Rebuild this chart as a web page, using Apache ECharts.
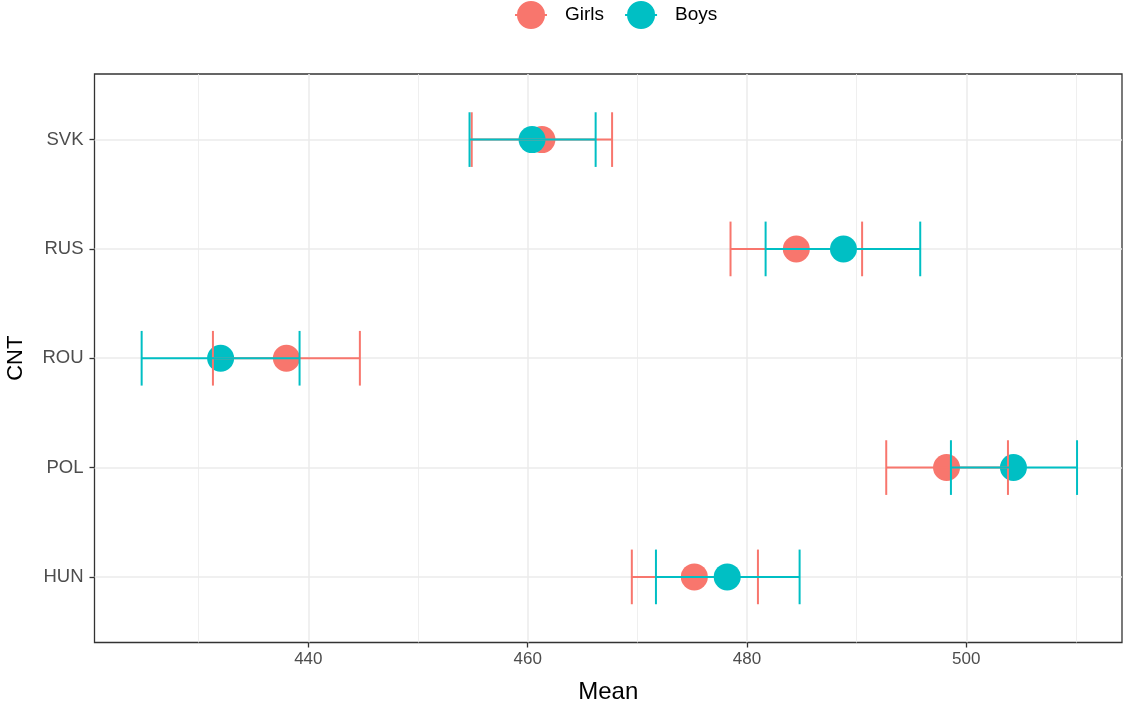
<!DOCTYPE html>
<html>
<head>
<meta charset="utf-8">
<script src="https://cdn.jsdelivr.net/npm/echarts@6/dist/echarts.min.js"></script>
<style>
  html, body { margin: 0; padding: 0; background: #fff; }
  #chart { width: 1126px; height: 706px; }
</style>
</head>
<body>
<div id="chart"></div>
<script>
// countries, bottom to top like the y axis
const countries = ['HUN', 'POL', 'ROU', 'RUS', 'SVK'];

// mean and error bar ends per country (same order)
const girlsMean = [475.2, 498.2, 438.0, 484.5, 461.3];
const girlsLow  = [469.5, 492.7, 431.3, 478.5, 454.9];
const girlsHigh = [481.0, 503.8, 444.7, 490.5, 467.7];

const boysMean = [478.2, 504.3, 432.0, 488.8, 460.4];
const boysLow  = [471.7, 498.6, 424.8, 481.7, 454.7];
const boysHigh = [484.8, 510.1, 439.2, 495.8, 466.2];

const xTicks = [440, 460, 480, 500];

const girlsColor = '#F8766D';
const boysColor = '#00BFC4';

const chart = echarts.init(document.getElementById('chart'));

// points: [mean, y position]
function points(means) {
  return means.map((m, i) => [m, i + 1]);
}
// error bars: [low, high, y position]
function bars(lows, highs) {
  return lows.map((lo, i) => [lo, highs[i], i + 1]);
}

// horizontal error bar with caps (cap half height = 0.25 category)
function renderBar(color) {
  return function (params, api) {
    const y = api.value(2);
    const a = api.coord([api.value(0), y]);
    const b = api.coord([api.value(1), y]);
    const capTop = api.coord([api.value(0), y + 0.25])[1];
    const capBot = api.coord([api.value(0), y - 0.25])[1];
    const style = { stroke: color, lineWidth: 2 };
    return {
      type: 'group',
      children: [
        { type: 'line', shape: { x1: a[0], y1: a[1], x2: b[0], y2: b[1] }, style: style },
        { type: 'line', shape: { x1: a[0], y1: capTop, x2: a[0], y2: capBot }, style: style },
        { type: 'line', shape: { x1: b[0], y1: capTop, x2: b[0], y2: capBot }, style: style }
      ]
    };
  };
}

const legendIcon = 'path://M0,13h32v2h-32z M2,14a14,14 0 1,1 28,0a14,14 0 1,1 -28,0z';

const option = {
  animation: false,
  backgroundColor: '#fff',
  textStyle: { fontFamily: 'Liberation Sans, Arial, sans-serif' },
  legend: {
    left: 515,
    top: 1,
    padding: 0,
    itemWidth: 32,
    itemHeight: 28,
    itemGap: 21,
    data: [
      { name: 'Girls', icon: legendIcon },
      { name: 'Boys', icon: legendIcon }
    ],
    formatter: name => '{t|' + name + '}',
    textStyle: {
      fontSize: 19, color: '#000',
      rich: { t: { fontSize: 19, color: '#000', padding: [0, 0, 0, 13] } }
    }
  },
  grid: {
    left: 94.5,
    right: 4,
    top: 74,
    bottom: 63.5,
    show: true,
    borderColor: '#333',
    borderWidth: 1.3,
    containLabel: false,
    outerBoundsMode: 'none'
  },
  xAxis: {
    type: 'value',
    min: 420.5,
    max: 514.2,
    name: 'Mean',
    nameLocation: 'middle',
    nameGap: 38,
    nameTextStyle: { fontSize: 24, color: '#000' },
    axisLine: { show: false },
    axisTick: {
      show: true, length: 5, customValues: xTicks,
      lineStyle: { color: '#333', width: 1.3 }
    },
    axisLabel: {
      customValues: xTicks, fontSize: 17, color: '#4D4D4D', margin: 8
    },
    splitLine: { show: true, lineStyle: { color: '#EBEBEB', width: 1.5 } },
    minorTick: { show: false, splitNumber: 2 },
    minorSplitLine: { show: true, lineStyle: { color: '#EBEBEB', width: 0.8 } }
  },
  yAxis: {
    type: 'value',
    min: 0.4,
    max: 5.6,
    name: 'CNT',
    nameLocation: 'middle',
    nameGap: 68,
    nameRotate: 90,
    nameTextStyle: { fontSize: 22, color: '#000' },
    axisLine: { show: false },
    axisTick: {
      show: true, length: 5, customValues: [1, 2, 3, 4, 5],
      lineStyle: { color: '#333', width: 1.3 }
    },
    axisLabel: {
      customValues: [1, 2, 3, 4, 5],
      fontSize: 18.5, color: '#4D4D4D', margin: 11,
      formatter: v => countries[Math.round(v) - 1] || ''
    },
    splitLine: { show: true, lineStyle: { color: '#EBEBEB', width: 1.5 } }
  },
  series: [
    {
      name: 'Girls', type: 'scatter', symbol: 'circle', symbolSize: 27,
      itemStyle: { color: girlsColor, opacity: 1 }, z: 2,
      data: points(girlsMean)
    },
    {
      name: 'Boys', type: 'scatter', symbol: 'circle', symbolSize: 27,
      itemStyle: { color: boysColor, opacity: 1 }, z: 3,
      data: points(boysMean)
    },
    {
      name: 'Girls', type: 'custom', renderItem: renderBar(girlsColor), z: 4,
      encode: { x: [0, 1], y: 2 },
      data: bars(girlsLow, girlsHigh)
    },
    {
      name: 'Boys', type: 'custom', renderItem: renderBar(boysColor), z: 5,
      encode: { x: [0, 1], y: 2 },
      data: bars(boysLow, boysHigh)
    }
  ]
};

chart.setOption(option);
</script>
</body>
</html>
